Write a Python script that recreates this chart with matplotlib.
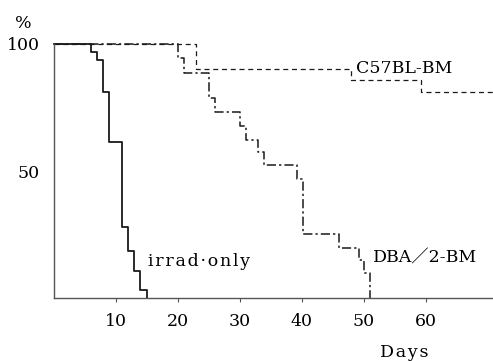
import matplotlib
matplotlib.use("Agg")
import matplotlib.pyplot as plt

# Survival (%) after irradiation, step curves: day of change -> new level
irrad_days = [0, 6, 7, 8, 9, 11, 12, 13, 14, 15]
irrad_surv = [100, 96.7, 93.7, 81.0, 61.3, 28.1, 18.6, 10.6, 3.1, 0]

dba_days = [0, 20, 21, 25, 26, 30, 31, 33, 34, 39.3, 40.2, 46, 49.3, 50, 51]
dba_surv = [100, 94.4, 88.7, 78.6, 73.4, 67.7, 62.2, 57.6, 52.4, 46.7, 25.2,
            19.6, 15.0, 9.7, 0]

c57_days = [0, 23, 48, 59.3, 71]
c57_surv = [100, 90.2, 85.8, 81.0, 81.0]

xticks = [10, 20, 30, 40, 50, 60]
yticks = [50, 100]

serif = ["DejaVu Serif", "Noto Sans CJK JP"]
fs = 12.5
ink = "#1a1a1a"


def spaced(s, gap="\u200a"):
    """Open up letter spacing with hair spaces between characters."""
    return gap.join(s)


fig = plt.figure(figsize=(4.93, 3.61), dpi=100)
ax = fig.add_axes([53.5 / 493, 1 - 298 / 361, 71 * 6.2 / 493, 254 / 361])

ax.step(irrad_days, irrad_surv, where="post", color=ink, lw=1.3,
        clip_on=False)
ax.step(dba_days, dba_surv, where="post", color=ink, lw=1.1,
        linestyle=(0, (6, 2, 1.5, 2)), clip_on=False)
ax.step(c57_days, c57_surv, where="post", color=ink, lw=0.9,
        linestyle=(0, (4, 3)), clip_on=False)

ax.set_xlim(0, 71)
ax.set_ylim(0, 100)
for s in ("top", "right"):
    ax.spines[s].set_visible(False)
for s in ("left", "bottom"):
    ax.spines[s].set_color("#555555")
    ax.spines[s].set_linewidth(1.0)

ax.set_xticks(xticks)
ax.set_xticklabels([str(t) for t in xticks], fontfamily=serif, fontsize=fs)
ax.set_yticks(yticks)
ax.set_yticklabels([str(t) for t in yticks], fontfamily=serif, fontsize=fs)
ax.tick_params(axis="x", direction="out", length=3, width=0.8,
               color="#555555", pad=8)
ax.tick_params(axis="y", length=0, pad=10)

ax.text(-4.8, 108, "%", fontfamily=serif, fontsize=fs, ha="center",
        va="center", clip_on=False)
ax.text(48.8, 90.5, "C57BL-BM", fontfamily=serif, fontsize=fs,
        ha="left", va="center")
ax.text(51.5, 15.7, "DBA／2-BM", fontfamily=serif, fontsize=fs,
        ha="left", va="center")
ax.text(15.3, 14.2, spaced("irrad·only"), fontfamily=serif, fontsize=fs,
        ha="left", va="center")
ax.text(52.6, -21.5, spaced("Days"), fontfamily=serif, fontsize=fs,
        ha="left", va="center", clip_on=False)

fig.savefig("out.png", dpi=100)
